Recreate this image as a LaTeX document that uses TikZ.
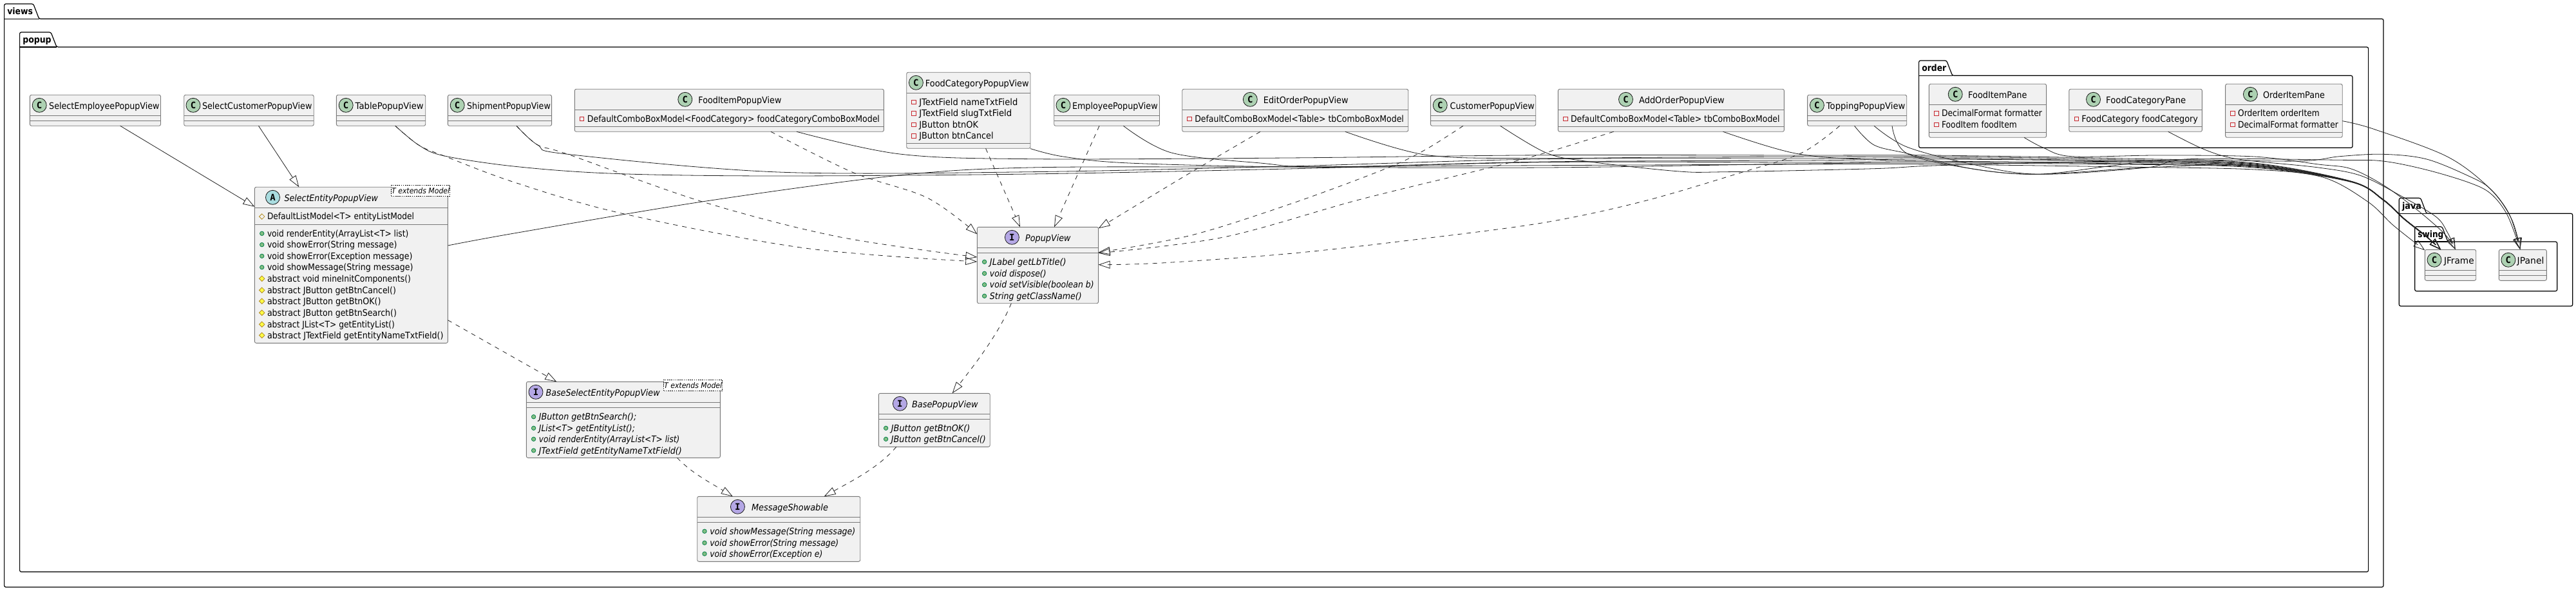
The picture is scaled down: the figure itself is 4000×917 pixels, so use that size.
\documentclass[tikz,border=0pt]{standalone}
\usepackage{graphicx}
\usepackage{fontspec}
\setmainfont{DejaVu Sans}
\newfontfamily\monofnt{DejaVu Sans Mono}
\usetikzlibrary{arrows.meta}
\definecolor{boxfill}{HTML}{F1F1F1}
\definecolor{boxline}{HTML}{787878}
\definecolor{edgeline}{HTML}{222222}
\definecolor{classic}{HTML}{ADD1B2}
\definecolor{abstic}{HTML}{A9DCDF}
\definecolor{ifaceic}{HTML}{B4A7E5}
\definecolor{pubfill}{HTML}{84BE84}
\definecolor{publine}{HTML}{038048}
\definecolor{privline}{HTML}{C82930}
\definecolor{protline}{HTML}{B38D22}
\definecolor{protfill}{HTML}{FFFF44}
\tikzset{
  umlbox/.style={rectangle,anchor=north west,draw=boxline,fill=boxfill,line width=.9pt,rounded corners=2.5pt,inner sep=0pt,outer sep=0pt},
  umlsep/.style={draw=boxline,line width=.9pt},
  umlicon/.style={circle,draw=black!90,line width=.8pt,minimum size=22pt,inner sep=0pt,font=\monofnt\bfseries\fontsize{14}{16}\selectfont},
  umltitle/.style={anchor=base west,inner sep=0pt,font=\fontsize{14}{16}\selectfont},
  umlrowtext/.style={anchor=base west,inner sep=0pt,font=\fontsize{14}{16}\selectfont},
  pkgshape/.style={draw=black,line width=1.2pt,rounded corners=2.5pt},
  pkglabel/.style={anchor=base west,inner sep=0pt,font=\bfseries\fontsize{14}{16}\selectfont},
  tmplbox/.style={rectangle,anchor=north west,draw=black,fill=white,line width=.7pt,dash pattern=on 1.6pt off 1.6pt,inner sep=0pt,outer sep=0pt,font=\itshape\fontsize{12}{14}\selectfont},
  extsolid/.style={draw=edgeline,line width=.8pt,-{Triangle[open,length=18pt,width=12pt]}},
  extdash/.style={extsolid,dash pattern=on 7pt off 7pt},
}
% set a text to a given width, keeping its height
\newcommand\fitw[2]{\resizebox{#1pt}{\height}{#2}}
% name, x1, y1, x2, y2, sep1, sep2
\newcommand\classrect[7]{%
  \node[umlbox,minimum width={#4-#2},minimum height={#5-#3}] (#1) at (#2,#3) {};
  \draw[umlsep] (#2,#6) -- (#4,#6);
  \draw[umlsep] (#2,#7) -- (#4,#7);
}
% name, colour, letter, circle x, text x, y1, title
\newcommand\classhead[7]{%
  \node[umlicon,fill=#2] (#1-icon) at (#4,#6+16) {#3};
  \node[umltitle] (#1-title) at (#5,#6+22) {#7};
}
% name, kind (pub/priv/prat/prot), box x1, row centre y, text
\newcommand\memberrow[5]{%
  \csname ico#2\endcsname{#3+11.3}{#4}%
  \node[umlrowtext] (#1) at (#3+19.4,#4+5) {#5};
}
\newcommand\icopub[2]{\filldraw[fill=pubfill,draw=publine,line width=.8pt] (#1,#2) circle (3.2);}
\newcommand\icopriv[2]{\draw[draw=privline,line width=.8pt] (#1-3.2,#2-3.2) rectangle (#1+3.2,#2+3.2);}
\newcommand\icoprat[2]{\draw[draw=protline,line width=.8pt] (#1,#2-4.2) -- (#1+4.2,#2) -- (#1,#2+4.2) -- (#1-4.2,#2) -- cycle;}
\newcommand\icoprot[2]{\filldraw[fill=protfill,draw=protline,line width=.8pt] (#1,#2-4.2) -- (#1+4.2,#2) -- (#1,#2+4.2) -- (#1-4.2,#2) -- cycle;}
% name, x1, tab top, tab right, body top, x2, y2, label
\newcommand\package[8]{%
  \draw[pkgshape] (#2,#5) -- (#2,#3) -- (#4-9,#3) -- (#4,#5) -- (#6,#5) -- (#6,#7) -- (#2,#7) -- cycle;
  \draw[pkgshape,rounded corners=0pt] (#2,#5) -- (#4,#5);
  \node[pkglabel] (#1) at (#2+4.5,#3+17) {#8};
}
\begin{document}
\begin{tikzpicture}[x=1pt,y=-1pt]
\useasboundingbox (0,0) rectangle (4000,917);

\package{views}{6.6}{6}{60.7}{29.3}{3701}{911}{\fitw{39.8}{views}}
\package{popup}{30.6}{50}{88}{73}{3677.6}{887.3}{\fitw{44.4}{popup}}
\package{order}{2979.6}{94}{3031.6}{117.3}{3653}{229.3}{\fitw{38}{order}}
\package{java}{3725.3}{307.3}{3767.7}{331.3}{3994.7}{475}{\fitw{30}{java}}
\package{swing}{3749.7}{351.7}{3801}{375}{3970.7}{451.7}{\fitw{40}{swing}}

% plain classes
\classrect{SelEmp}{46.4}{147.3}{249.5}{195.3}{179.3}{187.3}
\classhead{SelEmp}{classic}{C}{61.2}{76}{147.3}{\fitw{171.4}{SelectEmployeePopupView}}
\classrect{SelCus}{285.7}{147.3}{487.2}{195.3}{179.3}{187.3}
\classhead{SelCus}{classic}{C}{300}{313.8}{147.3}{\fitw{170.4}{SelectCustomerPopupView}}
\classrect{Tbl}{522.4}{147.3}{660.7}{195.3}{179.3}{187.3}
\classhead{Tbl}{classic}{C}{537.2}{551.5}{147.3}{\fitw{106}{TablePopupView}}
\classrect{Ship}{695.4}{147.3}{856.6}{195.3}{179.3}{187.3}
\classhead{Ship}{classic}{C}{710.2}{725}{147.3}{\fitw{129.6}{ShipmentPopupView}}
\classrect{FoodIt}{892.3}{138.3}{1372.4}{204.3}{170.3}{196.3}
\classhead{FoodIt}{classic}{C}{1063.8}{1084.2}{138.3}{\fitw{129}{FoodItemPopupView}}
\memberrow{FoodItA}{priv}{892.3}{184.3}{\fitw{454}{DefaultComboBoxModel<FoodCategory> foodCategoryComboBoxModel}}
\classrect{FoodCat}{1407.7}{112.3}{1600}{230.3}{144.3}{222.3}
\classhead{FoodCat}{classic}{C}{1422.4}{1436.7}{112.3}{\fitw{160.7}{FoodCategoryPopupView}}
\memberrow{FoodCatA}{priv}{1407.7}{158.3}{\fitw{153}{JTextField nameTxtField}}
\memberrow{FoodCatB}{priv}{1407.7}{176}{\fitw{143.9}{JTextField slugTxtField}}
\memberrow{FoodCatC}{priv}{1407.7}{193.3}{\fitw{91.8}{JButton btnOK}}
\memberrow{FoodCatD}{priv}{1407.7}{211}{\fitw{115.3}{JButton btnCancel}}
\classrect{Emp}{1636.7}{147.3}{1800.5}{195.3}{179.3}{187.3}
\classhead{Emp}{classic}{C}{1651}{1664.8}{147.3}{\fitw{132.7}{EmployeePopupView}}
\classrect{EditOrd}{1835.7}{138.3}{2186.7}{204.3}{170.3}{196.3}
\classhead{EditOrd}{classic}{C}{1941.3}{1961.7}{138.3}{\fitw{131.6}{EditOrderPopupView}}
\memberrow{EditOrdA}{priv}{1835.7}{184.3}{\fitw{324.5}{DefaultComboBoxModel<Table> tbComboBoxModel}}
\classrect{Cust}{2221.4}{147.3}{2384.7}{195.3}{179.3}{187.3}
\classhead{Cust}{classic}{C}{2236.2}{2251.5}{147.3}{\fitw{131}{CustomerPopupView}}
\classrect{AddOrd}{2419.4}{138.3}{2770.4}{204.3}{170.3}{196.3}
\classhead{AddOrd}{classic}{C}{2524.5}{2544.9}{138.3}{\fitw{132.7}{AddOrderPopupView}}
\memberrow{AddOrdA}{priv}{2419.4}{184.3}{\fitw{324.5}{DefaultComboBoxModel<Table> tbComboBoxModel}}
\classrect{Top}{2806.6}{147.3}{2960.7}{195.3}{179.3}{187.3}
\classhead{Top}{classic}{C}{2821.4}{2835.7}{147.3}{\fitw{122.4}{ToppingPopupView}}
\classrect{FIPane}{2995.4}{130.3}{3177.6}{213.3}{162.3}{205.3}
\classhead{FIPane}{classic}{C}{3036.2}{3056}{130.3}{\fitw{91.3}{FoodItemPane}}
\memberrow{FIPaneA}{priv}{2995.4}{176}{\fitw{156}{DecimalFormat formatter}}
\memberrow{FIPaneB}{priv}{2995.4}{193.3}{\fitw{116.8}{FoodItem foodItem}}
\classrect{FCPane}{3212.8}{138.3}{3419.4}{204.3}{170.3}{196.3}
\classhead{FCPane}{classic}{C}{3250.5}{3270}{138.3}{\fitw{124}{FoodCategoryPane}}
\memberrow{FCPaneA}{priv}{3212.8}{184.3}{\fitw{180.6}{FoodCategory foodCategory}}
\classrect{OIPane}{3455.6}{130.3}{3637.2}{213.3}{162.3}{205.3}
\classhead{OIPane}{classic}{C}{3494.4}{3513.8}{130.3}{\fitw{96}{OrderItemPane}}
\memberrow{OIPaneA}{priv}{3455.6}{176}{\fitw{126.5}{OrderItem orderItem}}
\memberrow{OIPaneB}{priv}{3455.6}{193.3}{\fitw{155.6}{DecimalFormat formatter}}
\classrect{JFrame}{3765.3}{387.3}{3844.7}{435.3}{419.3}{427.3}
\classhead{JFrame}{classic}{C}{3780}{3794.8}{387.3}{\fitw{46.7}{JFrame}}
\classrect{JPanel}{3880.3}{387.3}{3954.3}{435.3}{419.3}{427.3}
\classhead{JPanel}{classic}{C}{3894.9}{3908.5}{387.3}{\fitw{41.7}{JPanel}}

% abstract class
\classrect{SelEnt}{395.4}{290.3}{695.4}{532.3}{322.3}{348.3}
\classhead{SelEnt}{abstic}{A}{423.5}{441.3}{290.3}{\fitw{145.4}{\itshape SelectEntityPopupView}}
\memberrow{SelEntA}{prat}{395.4}{336}{\fitw{228}{DefaultListModel<T> entityListModel}}
\memberrow{SelEntB}{pub}{395.4}{362.3}{\fitw{219.4}{void renderEntity(ArrayList<T> list)}}
\memberrow{SelEntC}{pub}{395.4}{379.7}{\fitw{201.5}{void showError(String message)}}
\memberrow{SelEntD}{pub}{395.4}{397.3}{\fitw{225.5}{void showError(Exception message)}}
\memberrow{SelEntE}{pub}{395.4}{414.7}{\fitw{226.5}{void showMessage(String message)}}
\memberrow{SelEntF}{prot}{395.4}{432.3}{\fitw{223}{abstract void mineInitComponents()}}
\memberrow{SelEntG}{prot}{395.4}{450.3}{\fitw{200}{abstract JButton getBtnCancel()}}
\memberrow{SelEntH}{prot}{395.4}{467.3}{\fitw{176.5}{abstract JButton getBtnOK()}}
\memberrow{SelEntI}{prot}{395.4}{485.3}{\fitw{201}{abstract JButton getBtnSearch()}}
\memberrow{SelEntJ}{prot}{395.4}{503.3}{\fitw{198}{abstract JList<T> getEntityList()}}
\memberrow{SelEntK}{prot}{395.4}{520.3}{\fitw{273.5}{abstract JTextField getEntityNameTxtField()}}
\node[tmplbox,minimum width=91pt,minimum height=17pt] (SelEntT) at (607.6,287.3) {\makebox[91pt][l]{\hspace{.6pt}\fitw{90}{T extends Model}}};

% interfaces
\classrect{Popup}{1517.3}{352.3}{1705.6}{470.7}{384.3}{392.3}
\classhead{Popup}{ifaceic}{I}{1571.4}{1592}{352.3}{\fitw{70.4}{\itshape PopupView}}
\memberrow{PopupA}{pub}{1517.3}{406.3}{\fitw{118.9}{\itshape JLabel getLbTitle()}}
\memberrow{PopupB}{pub}{1517.3}{424.3}{\fitw{87.8}{\itshape void dispose()}}
\memberrow{PopupC}{pub}{1517.3}{441.7}{\fitw{161.7}{\itshape void setVisible(boolean b)}}
\memberrow{PopupD}{pub}{1517.3}{459.3}{\fitw{142.9}{\itshape String getClassName()}}
\classrect{BaseSel}{817.3}{592.3}{1118.4}{710.3}{624.3}{632.3}
\classhead{BaseSel}{ifaceic}{I}{832}{847.4}{592.3}{\fitw{177}{\itshape BaseSelectEntityPopupView}}
\memberrow{BaseSelA}{pub}{817.3}{646.7}{\fitw{151.5}{\itshape JButton getBtnSearch();}}
\memberrow{BaseSelB}{pub}{817.3}{664.3}{\fitw{149}{\itshape JList<T> getEntityList();}}
\memberrow{BaseSelC}{pub}{817.3}{681.3}{\fitw{218.4}{\itshape void renderEntity(ArrayList<T> list)}}
\memberrow{BaseSelD}{pub}{817.3}{699}{\fitw{222}{\itshape JTextField getEntityNameTxtField()}}
\node[tmplbox,minimum width=91pt,minimum height=17pt] (BaseSelT) at (1030.6,589.3) {\makebox[91pt][l]{\hspace{.6pt}\fitw{90}{T extends Model}}};
\classrect{BasePop}{1364.3}{610.3}{1537.2}{693.3}{642.3}{650.3}
\classhead{BasePop}{ifaceic}{I}{1397.4}{1415.8}{610.3}{\fitw{102.6}{\itshape BasePopupView}}
\memberrow{BasePopA}{pub}{1364.3}{664.3}{\fitw{122.4}{\itshape JButton getBtnOK()}}
\memberrow{BasePopB}{pub}{1364.3}{681.3}{\fitw{147}{\itshape JButton getBtnCancel()}}
\classrect{MsgShow}{1082.7}{770.3}{1335.7}{871.3}{802.3}{810.3}
\classhead{MsgShow}{ifaceic}{I}{1145.4}{1166.8}{770.3}{\fitw{118.9}{\itshape MessageShowable}}
\memberrow{MsgShowA}{pub}{1082.7}{824.3}{\fitw{226}{\itshape void showMessage(String message)}}
\memberrow{MsgShowB}{pub}{1082.7}{842.3}{\fitw{200}{\itshape void showError(String message)}}
\memberrow{MsgShowC}{pub}{1082.7}{859.3}{\fitw{175}{\itshape void showError(Exception e)}}

% straight extends / implements
\draw[extsolid] ([xshift=140.3]SelEmp.south west) -- ([yshift=-30.4]SelEnt.north west);
\draw[extsolid] ([xshift=115.8]SelCus.south west) -- ([xshift=68.9]SelEnt.north west);
\draw[extdash] ([yshift=-206.4]SelEnt.north east) -- ([xshift=47]BaseSel.north west);
\draw[extdash] ([xshift=53]Popup.south west) .. controls (1550,520) and (1510,570) .. ([xshift=114.3]BasePop.north west);
\draw[extdash] ([xshift=234.2]BaseSel.south west) .. controls (1075,735) and (1105,750) .. ([xshift=55.1]MsgShow.north west);
\draw[extdash] ([xshift=27.5]BasePop.south west) .. controls (1365,725) and (1325,745) .. ([xshift=196.9]MsgShow.north west);

% dashed to PopupView
\draw[extdash] plot[smooth,tension=.55] coordinates {([xshift=91.4]Tbl.south west) (650,225) (689,241.7) (800,283.3) (968,331.7) (1250,385) ([yshift=-53.7]Popup.north west)};
\draw[extdash] plot[smooth,tension=.55] coordinates {([xshift=106.6]Ship.south west) (835,225) (881.6,239.3) (1090.8,313) (1300,367) ([yshift=-46.7]Popup.north west)};
\draw[extdash] plot[smooth,tension=.55] coordinates {([xshift=304.7]FoodIt.south west) (1325.5,268) (1440,307) ([yshift=-11]Popup.north west)};
\draw[extdash] ([xshift=122.9]FoodCat.south west) -- ([xshift=66.7]Popup.north west);
\draw[extdash] ([xshift=70.3]Emp.south west) -- ([xshift=119.7]Popup.north west);
\draw[extdash] plot[smooth,tension=.55] coordinates {([xshift=121.3]EditOrd.south west) (1845,270) ([yshift=-2]Popup.north east)};
\draw[extdash] plot[smooth,tension=.55] coordinates {([xshift=50.6]Cust.south west) (2212,233) (2151,262) (2008,315) (1850,365) ([yshift=-39.4]Popup.north east)};
\draw[extdash] plot[smooth,tension=.55] coordinates {([xshift=86.2]AddOrd.south west) (2400,237) (2314,260) (2110,310) (1900,368) ([yshift=-40.4]Popup.north east)};
\draw[extdash] plot[smooth,tension=.55] coordinates {([xshift=50]Top.south west) (2798,237) (2706,267) (2553,312) (2400,345) (2212,370) (2008,393) (1804,408) ([yshift=-58.4]Popup.north east)};

% solid bundle to JFrame
\draw[extsolid] plot[smooth,tension=.55] coordinates {([yshift=-90.7]SelEnt.north east) (800,361.7) (1090,313) (1387,273) (1600,260) (2000,259) (2400,256.7) (2800,255) (3000,255) (3300,259) (3500,263) (3606.7,275) (3676.7,313) (3716.7,350) ([yshift=-1]JFrame.north west)};
\draw[extsolid] plot[smooth,tension=.55] coordinates {([xshift=91.4]Tbl.south west) (650,225) (689,241.7) (800,258.3) (953,269.3) (1200,273) (1600,270) (2000,262) (2400,251.7) (2800,252) (3000,251) (3300,254) (3500,259) (3650,282) (3700,310) (3733,340) (3767,366.7) ([xshift=24.7]JFrame.north west)};
\draw[extsolid] plot[smooth,tension=.55] coordinates {([xshift=106.6]Ship.south west) (835,225) (881.6,239.3) (1208,267) (1600,266.7) (2000,258) (2400,246.7) (2800,246) (3000,245) (3300,250) (3500,257) (3650,281.5) (3700,309.5) (3733,339.5) (3767,366) ([xshift=24.7]JFrame.north west)};
\draw[extsolid] plot[smooth,tension=.55] coordinates {([xshift=344.7]FoodIt.south west) (1397,239) (1600,246.7) (2000,245) (2400,240.7) (2800,241) (3000,241) (3300,246) (3500,253) (3650,281) (3700,309) (3733,339) (3767,366) ([xshift=24.7]JFrame.north west)};
\draw[extsolid] plot[smooth,tension=.55] coordinates {([xshift=192.3,yshift=-.3]FoodCat.south west) (1651,243) (1753,253) (2008,259) (2400,260) (2800,254) (3000,253) (3300,255) (3500,260) (3650,282.3) (3700,310.3) (3733,340.3) (3767,367) ([xshift=24.7]JFrame.north west)};
\draw[extsolid] plot[smooth,tension=.55] coordinates {([xshift=107.7]Emp.south west) (1819,237) (1957,253) (2059,259) (2400,251) (2800,249) (3000,247) (3300,250) (3500,256) (3650,281) (3700,309) (3733,339) (3767,366) ([xshift=24.7]JFrame.north west)};
\draw[extsolid] plot[smooth,tension=.55] coordinates {([xshift=253.1]EditOrd.south west) (2212,240) (2365,245.7) (2600,244) (3000,243) (3300,248) (3500,255) (3650,281.5) (3700,309.5) (3733,339.5) (3767,366.5) ([xshift=24.7]JFrame.north west)};
\draw[extsolid] plot[smooth,tension=.55] coordinates {([xshift=108.2]Cust.south west) (2400,236.7) (2461,250) (2604,265.7) (2680,266.7) (2910,261.7) (3012,256.7) (3300,250) (3500,254) (3650,281.5) (3700,309.5) (3733,339.5) (3767,366.5) ([xshift=24.7]JFrame.north west)};
\draw[extsolid] plot[smooth,tension=.55] coordinates {([xshift=256.1]AddOrd.south west) (2788,238) (2910,248) (3100,251) (3300,252) (3500,258) (3650,281.5) (3700,309.5) (3733,339.5) (3767,366.5) ([xshift=24.7]JFrame.north west)};
\draw[extsolid] plot[smooth,tension=.55] coordinates {([xshift=131.4]Top.south west) (2961,238) (3063,262) (3165,270.3) (3333,260) (3500,257) (3650,281.5) (3700,309.5) (3733,339.5) (3767,366.5) ([xshift=24.7]JFrame.north west)};
% right tip of JFrame
\draw[extsolid] plot[smooth,tension=.55] coordinates {([xshift=147.6]FIPane.south west) (3173,229.3) (3217,242.7) (3350,241) (3500,243) (3600,255) (3650,261.7) (3700,286.7) (3750,323) (3795,362) ([xshift=47.4]JFrame.north west)};
\draw[extsolid] plot[smooth,tension=.55] coordinates {([xshift=153.9]FCPane.south west) (3416.7,229.3) (3456.7,243.3) (3500,250) (3600,260) (3667,273) (3733,306.7) (3783,336.7) (3800,360) ([xshift=47.4]JFrame.north west)};

% to JPanel
\draw[extsolid] plot[smooth,tension=.55] coordinates {([yshift=-57.4]OIPane.north east) (3685,200) (3800,243) (3866.7,293) (3900,340) ([xshift=33]JPanel.north west)};
\draw[extsolid] plot[smooth,tension=.55] coordinates {([xshift=72.9]Top.south west) (2910,225) (2961,238) (3063,262) (3165,270.3) (3283,256.7) (3367,248) (3566.7,250) (3633,242.7) (3700,239.3) (3767,246.7) (3833,273) (3867,293) (3896.7,333) ([xshift=33]JPanel.north west)};
\draw[extsolid] plot[smooth,tension=.55] coordinates {([xshift=103.4]Top.south west) (2961,228) (3063,255) (3165,270.3) (3333,260) (3400,246.7) (3633,248.3) (3700,250) (3767,263.3) (3833,283) (3867,300) (3893,333) ([xshift=33]JPanel.north west)};
\end{tikzpicture}
\end{document}
